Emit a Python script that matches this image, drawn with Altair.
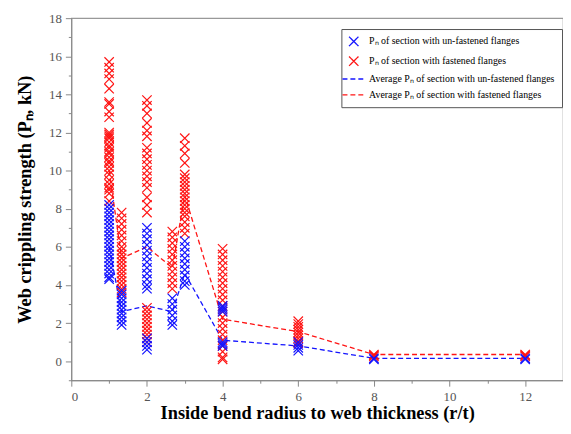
import altair as alt
import pandas as pd

# ---- data ----
x_positions = [1, 1.33, 2, 2.67, 3, 4, 6, 8, 12]

unf_values = [
    [8.2, 8.0, 7.8, 7.6, 7.4, 7.2, 7.0, 6.8, 6.6, 6.4, 6.2, 6.0, 5.8, 5.6, 5.4, 5.2, 5.0, 4.8, 4.6, 4.4, 4.3],
    [3.7, 3.5, 3.3, 3.1, 2.9, 2.7, 2.5, 2.3, 2.1, 1.9],
    [7.0, 6.7, 6.4, 6.1, 5.8, 5.5, 5.2, 4.9, 4.6, 4.3, 4.0, 3.8, 1.2, 1.0, 0.8, 0.6],
    [3.3, 3.0, 2.7, 2.4, 2.1, 1.9],
    [6.3, 6.0, 5.7, 5.4, 5.1, 4.8, 4.5, 4.2, 4.0],
    [2.9, 2.8, 2.7, 2.6, 1.0, 0.9, 0.8],
    [1.0, 0.85, 0.7, 0.55],
    [0.15, 0.1],
    [0.15, 0.1],
]

fas_values = [
    [15.7, 15.4, 15.1, 14.8, 14.3, 13.6, 13.5, 13.1, 12.8, 12.0, 11.9, 11.8, 11.7, 11.5, 11.3,
     11.2, 11.0, 10.9, 10.7, 10.5, 10.4, 10.2, 10.0, 9.8, 9.5, 9.3, 9.1, 9.0, 8.8, 8.4],
    [7.8, 7.5, 7.2, 6.9, 6.6, 6.3, 6.0, 5.8, 5.6, 5.4, 5.2, 5.0, 4.8, 4.6, 4.4, 4.2, 4.0, 3.8, 3.6],
    [13.7, 13.4, 13.0, 12.5, 12.1, 11.8, 11.2, 10.9, 10.6, 10.3, 10.0, 9.7, 9.4, 9.1, 8.6, 8.2, 7.8,
     2.8, 2.6, 2.4, 2.2, 2.0, 1.8, 1.6, 1.4, 1.2, 1.0],
    [6.8, 6.5, 6.2, 5.9, 5.6, 5.3, 5.0, 4.7, 4.4, 4.1, 3.8],
    [11.7, 11.3, 10.9, 10.4, 9.8, 9.6, 9.4, 9.2, 9.0, 8.8, 8.6, 8.4, 8.2, 8.0, 7.8, 7.6, 7.3, 7.0, 6.7],
    [5.9, 5.6, 5.3, 5.0, 4.7, 4.4, 4.1, 3.8, 3.5, 3.2, 2.9, 2.6, 2.3, 2.0, 1.7, 1.4, 1.1, 0.8, 0.5, 0.2, 0.1],
    [2.1, 1.95, 1.8, 1.65, 1.5, 1.35, 1.2, 1.05, 0.95],
    [0.35, 0.3, 0.25],
    [0.35, 0.3, 0.25],
]

avg_unf = [6.0, 2.6, 2.9, 2.6, 4.6, 1.1, 0.8, 0.15, 0.15]
avg_fas = [10.0, 5.4, 6.0, 4.9, 8.7, 2.2, 1.55, 0.35, 0.35]

series_names = [
    "P\u2099 of section with un-fastened flanges",
    "P\u2099 of section with fastened flanges",
    "Average P\u2099 of section with un-fastened flanges",
    "Average P\u2099 of section with fastened flanges",
]
series_colors = ["#1414ff", "#ff1414", "#1414ff", "#ff1414"]

# ---- tables ----
pt_rows = []
for xv, vals in zip(x_positions, fas_values):
    for v in vals:
        pt_rows.append({"x": xv, "y": v, "series": series_names[1], "order": 0})
for xv, vals in zip(x_positions, unf_values):
    for v in vals:
        pt_rows.append({"x": xv, "y": v, "series": series_names[0], "order": 1})
points_df = pd.DataFrame(pt_rows)

ln_rows = []
for xv, a, b in zip(x_positions, avg_unf, avg_fas):
    ln_rows.append({"x": xv, "y": a, "series": series_names[2]})
    ln_rows.append({"x": xv, "y": b, "series": series_names[3]})
lines_df = pd.DataFrame(ln_rows)

X_SHAPE = "M-1,-1L1,1M1,-1L-1,1"
LINE_SHAPE = "M-2.4,0L2.4,0"

color_scale = alt.Scale(domain=series_names, range=series_colors)
shape_scale = alt.Scale(domain=series_names, range=[X_SHAPE, X_SHAPE, LINE_SHAPE, LINE_SHAPE])
dash_scale = alt.Scale(domain=series_names, range=[[1, 0], [1, 0], [5, 3], [5, 3]])

legend = alt.Legend(
    title=None, orient="none", legendX=273, legendY=11,
    strokeColor="#555555", fillColor="white", padding=7,
    labelFont="Liberation Serif", labelFontSize=10, labelColor="black",
    symbolStrokeWidth=1.3, symbolSize=90, rowPadding=5, labelLimit=400,
    labelOffset=10, offset=0,
)

def make_axis(vals, title):
    return alt.Axis(
        values=vals, title=title,
        labelExpr="datum.value % 2 == 0 ? datum.label : ''",
        tickSize={"condition": {"test": "datum.value % 2 != 0", "value": 3}, "value": 6},
        grid=False, labelOverlap=False,
    )

xaxis = make_axis(list(range(0, 14)), "Inside bend radius to web thickness (r/t)")
yaxis = make_axis(list(range(-1, 19)), "Web crippling strength (P\u2099, kN)")

xs = alt.Scale(domain=[0, 13], nice=False, zero=False)
ys = alt.Scale(domain=[-1, 18], nice=False, zero=False)

pts = alt.Chart(points_df).mark_point(filled=False, size=90, strokeWidth=1.2, opacity=1).encode(
    x=alt.X("x:Q", scale=xs, axis=xaxis),
    y=alt.Y("y:Q", scale=ys, axis=yaxis),
    color=alt.Color("series:N", scale=color_scale, legend=legend),
    shape=alt.Shape("series:N", scale=shape_scale, legend=legend),
    order=alt.Order("order:Q"),
)

lns = alt.Chart(lines_df).mark_line(strokeWidth=1.3).encode(
    x=alt.X("x:Q", scale=xs, axis=xaxis),
    y=alt.Y("y:Q", scale=ys, axis=yaxis),
    color=alt.Color("series:N", scale=color_scale, legend=legend),
    strokeDash=alt.StrokeDash("series:N", scale=dash_scale, legend=legend),
)

chart = alt.layer(lns, pts).properties(
    width=497, height=366,
    autosize=alt.AutoSizeParams(type="none"),
    padding={"left": 64, "top": 8, "right": 0, "bottom": 44},
).configure_view(
    stroke="#999999", strokeWidth=1.2,
).configure_axis(
    domainColor="#888888", tickColor="#888888", labelColor="#555555",
    labelFont="Liberation Serif", labelFontSize=13,
    titleFont="Liberation Serif", titleFontSize=18.5, titleFontWeight="bold", titleColor="black",
    labelPadding=4,
).configure_axisX(titlePadding=1).configure_axisY(titlePadding=14)

chart.save("out.html", embed_options={"renderer": "svg", "actions": False})
